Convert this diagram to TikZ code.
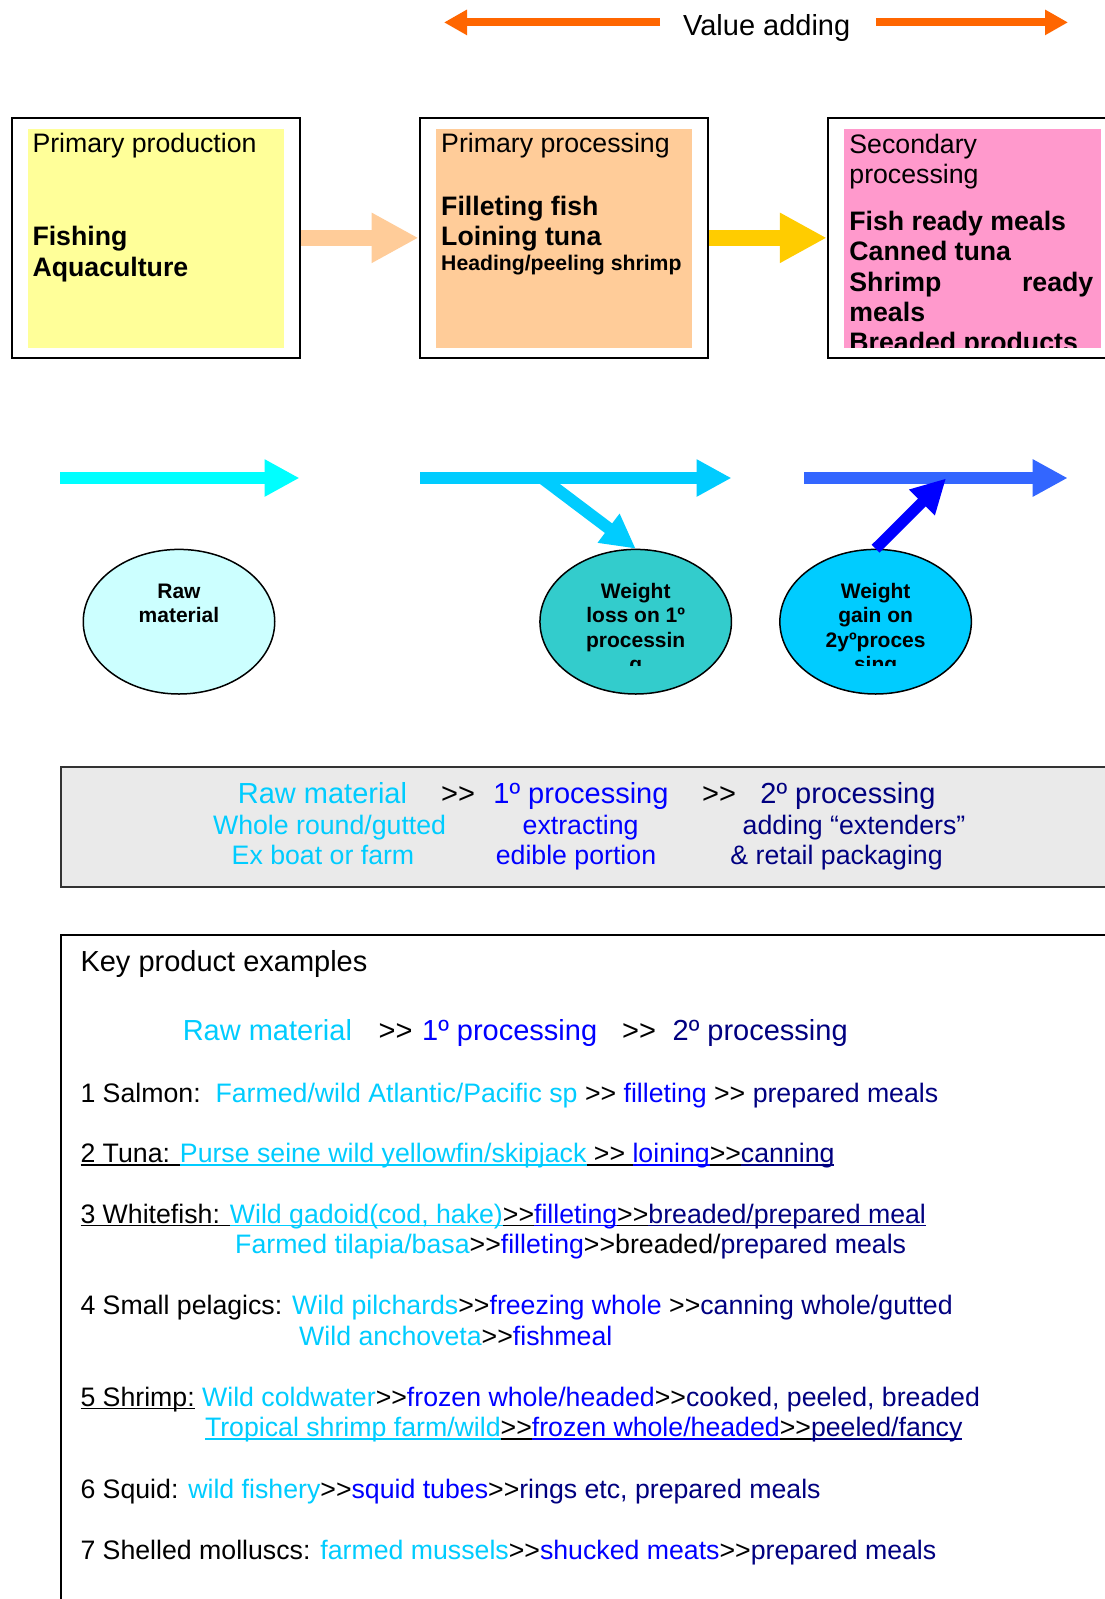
\documentclass[tikz,border=0pt]{standalone}
\usepackage{fontspec}
\setmainfont{Liberation Sans}
\usetikzlibrary{arrows.meta,shapes.geometric}

% palette
\definecolor{rawc}{HTML}{00CCFF}
\definecolor{onec}{HTML}{0000FF}
\definecolor{twoc}{HTML}{000080}
\definecolor{orangec}{HTML}{FF6600}
\definecolor{yellowbox}{HTML}{FFFF99}
\definecolor{peachbox}{HTML}{FFCC99}
\definecolor{pinkbox}{HTML}{FF99CC}
\definecolor{goldc}{HTML}{FFCC00}
\definecolor{aquac}{HTML}{00FFFF}
\definecolor{skyc}{HTML}{00CCFF}
\definecolor{royalc}{HTML}{3366FF}
\definecolor{pureblue}{HTML}{0000FF}
\definecolor{ellA}{HTML}{CCFFFF}
\definecolor{ellB}{HTML}{33CCCC}
\definecolor{ellC}{HTML}{00CCFF}
\definecolor{panelgray}{HTML}{EAEAEA}

% font sizes (1pt = 1 picture unit)
\newcommand\fbig{\fontsize{29pt}{33pt}\selectfont}
\newcommand\fmid{\fontsize{26.7pt}{30.7pt}\selectfont}
\newcommand\fsml{\fontsize{21.2pt}{24.5pt}\selectfont}
\newcommand\fell{\fontsize{21pt}{24.5pt}\selectfont\bfseries}

% coloured runs and a flat underline in the current colour
\newcommand\rawt[1]{\textcolor{rawc}{#1}}
\newcommand\onet[1]{\textcolor{onec}{#1}}
\newcommand\twot[1]{\textcolor{twoc}{#1}}
\newcommand\ulin[1]{\setbox0=\hbox{#1}\rlap{\rule[-3.4pt]{\wd0}{1.5pt}}\box0\relax}
\newcommand\ggt{>\kern0pt>}

\begin{document}
\begin{tikzpicture}[x=1pt,y=-1pt,
  outerbox/.style={draw, line width=2pt, inner sep=0pt,
    minimum width=288.5pt, minimum height=240.3pt},
  txt/.style={inner sep=0pt, anchor=base west},
  ctxt/.style={inner sep=0pt, anchor=base},
  fatarrow/.style={line width=16pt, -{Triangle[length=47pt,width=47pt]}},
  flowarrow/.style={line width=12pt, -{Triangle[length=35pt,width=35pt]}},
  brancharrow/.style={line width=12pt, -{Triangle[length=34pt,width=34pt]}},
  valarrow/.style={orangec, line width=8pt, -{Triangle[length=23pt,width=24pt]}},
  blob/.style={ellipse, draw, line width=1.5pt, inner sep=0pt,
    minimum width=191.5pt, minimum height=144.6pt},
  elltxt/.style={inner sep=0pt, anchor=base, align=center, font=\fell},
]
\clip (0,0) rectangle (1105,1599);
\fill[white] (0,0) rectangle (1105,1599);

% ---- value adding banner
\node[ctxt, font=\fbig] (va) at (766.7,35) {Value adding};
\coordinate (vaL0) at (660,22.4);
\coordinate (vaL1) at (444,22.4);
\coordinate (vaR0) at (876,22.4);
\coordinate (vaR1) at (1068,22.4);
\draw[valarrow] (vaL0) -- (vaL1);
\draw[valarrow] (vaR0) -- (vaR1);

% ---- three stage boxes
\node[outerbox] (b1) at (155.75,237.85) {};
\node[outerbox] (b2) at (563.75,237.85) {};
\node[outerbox] (b3) at (972,237.85) {};
\fill[yellowbox] (28,129) rectangle (284,347.7);
\fill[peachbox] (436,129) rectangle (692,347.7);
\fill[pinkbox] (844,129) rectangle (1100.5,347.7);

\draw[fatarrow, peachbox] (b1.east) -- (b2.west);
\draw[fatarrow, goldc] (b2.east) -- (b3.west);

\node[txt, font=\fmid] (t1a) at (32.3,152.7) {Primary production};
\node[txt, font=\fmid\bfseries] (t1b) at (32.3,245) {Fishing};
\node[txt, font=\fmid\bfseries] (t1c) at (32.3,276) {Aquaculture};

\node[txt, font=\fmid] (t2a) at (441,152.7) {Primary processing};
\node[txt, font=\fmid\bfseries] (t2b) at (441,215) {Filleting fish};
\node[txt, font=\fmid\bfseries] (t2c) at (441,245) {Loining tuna};
\node[txt, font=\fsml\bfseries] (t2d) at (441,270.7) {Heading/peeling shrimp};

\begin{scope}
\clip (844,129) rectangle (1100.5,347.7);
\node[txt, font=\fmid] (t3a) at (849.2,153.3) {Secondary};
\node[txt, font=\fmid] (t3b) at (849.2,183.3) {processing};
\node[txt, font=\fmid\bfseries] (t3c) at (849.2,230) {Fish ready meals};
\node[txt, font=\fmid\bfseries] (t3d) at (849.2,260.7) {Canned tuna};
\node[txt, font=\fmid\bfseries] (t3e) at (849.2,291.7) {Shrimp};
\node[inner sep=0pt, anchor=base east, font=\fmid\bfseries] (t3f) at (1093.5,291.7) {ready};
\node[txt, font=\fmid\bfseries] (t3g) at (849.2,321.7) {meals};
\node[txt, font=\fmid\bfseries] (t3h) at (849.2,351.7) {Breaded products};
\end{scope}

% ---- mass flow arrows and ellipses
\node[blob, fill=ellA] (e1) at (179,621.7) {};
\node[blob, fill=ellB] (e2) at (635.7,621.7) {};
\node[blob, fill=ellC] (e3) at (875.6,621.7) {};

\coordinate (fa0) at (60,478);
\coordinate (fa1) at (299.5,478);
\coordinate (fb0) at (420,478);
\coordinate (fb1) at (731.5,478);
\coordinate (fbx) at (542,478);
\coordinate (fc0) at (804,478);
\coordinate (fc1) at (1067.7,478);
\coordinate (fcx) at (946,478.5);

\draw[flowarrow, aquac] (fa0) -- (fa1);
\draw[flowarrow, skyc] (fb0) -- (fb1);
\draw[brancharrow, skyc] (fbx) -- (e2.north);
\draw[flowarrow, royalc] (fc0) -- (fc1);
\draw[brancharrow, pureblue, line width=11pt] (e3.north) -- (fcx);

% multi-line labels sit on the baseline of their last line
\node[elltxt] (e1t) at (179,622.8) {Raw\\material};
\begin{scope}
\clip (540,560) rectangle (975,665);
\node[elltxt] (e2t) at (635.7,671.8) {Weight\\loss on 1º\\processin\\g};
\node[elltxt] (e3t) at (875.6,671.8) {Weight\\gain on\\2yºproces\\sing};
\end{scope}

% ---- summary panel
\node[draw=black!80, fill=panelgray, line width=2.2pt, inner sep=0pt,
  minimum width=1070pt, minimum height=120pt, anchor=north west] (gbox) at (60,766) {};
\node[ctxt, font=\fbig, text=rawc] (g1a) at (322.5,803.3) {Raw material};
\node[ctxt, font=\fbig] (g1b) at (458,803.3) {\ggt};
\node[ctxt, font=\fbig, text=onec] (g1c) at (581,803.3) {1º processing};
\node[ctxt, font=\fbig] (g1d) at (719,803.3) {\ggt};
\node[ctxt, font=\fbig, text=twoc] (g1e) at (848,803.3) {2º processing};
\node[ctxt, font=\fmid, text=rawc] (g2a) at (329.6,834) {Whole round/gutted};
\node[ctxt, font=\fmid, text=onec] (g2b) at (580.6,834) {extracting};
\node[ctxt, font=\fmid, text=twoc] (g2c) at (854,834) {adding “extenders”};
\node[ctxt, font=\fmid, text=rawc] (g3a) at (323,864.3) {Ex boat or farm};
\node[ctxt, font=\fmid, text=onec] (g3b) at (576,864.3) {edible portion};
\node[ctxt, font=\fmid, text=twoc] (g3c) at (836.6,864.3) {\& retail packaging};

% ---- key product examples
\node[draw, line width=2pt, inner sep=0pt, minimum width=1100pt,
  minimum height=720pt, anchor=north west] (kbox) at (60,934) {};
\node[txt, font=\fbig] (k0) at (80.3,971.7) {Key product examples};
\node[txt, font=\fbig, text=rawc] (kh1) at (182.6,1040) {Raw material};
\node[txt, font=\fbig] (kh2) at (378.4,1040) {\ggt};
\node[txt, font=\fbig, text=onec] (kh3) at (422,1040) {1º processing};
\node[txt, font=\fbig] (kh4) at (622,1040) {\ggt};
\node[txt, font=\fbig, text=twoc] (kh5) at (672.5,1040) {2º processing};

\node[txt, font=\fmid] (k1) at (80.3,1102)
  {1 Salmon:\ \ \rawt{Farmed/wild Atlantic/Pacific sp} \ggt{} \onet{filleting} \ggt{} \twot{prepared meals}};
\node[txt, font=\fmid] (k2) at (80.3,1162.5)
  {\ulin{2 Tuna: }\rawt{\ulin{Purse seine wild yellowfin/skipjack}}\ulin{ \ggt{} }\onet{\ulin{loining}}\ulin{\ggt}\twot{\ulin{canning}}};
\node[txt, font=\fmid] (k3) at (80.3,1223)
  {\ulin{3 Whitefish: }\rawt{\ulin{Wild gadoid(cod, hake)}}\ulin{\ggt}\onet{\ulin{filleting}}\ulin{\ggt}\twot{\ulin{breaded/prepared meal}}};
\node[txt, font=\fmid] (k3b) at (235,1253.5)
  {\rawt{Farmed tilapia/basa}\ggt\onet{filleting}\ggt{}breaded/\twot{prepared meals}};
\node[txt, font=\fmid] (k4) at (80.3,1314.5)
  {4 Small pelagics: \rawt{Wild pilchards}\ggt\onet{freezing whole} \ggt\twot{canning whole/gutted}};
\node[txt, font=\fmid] (k4b) at (299,1345)
  {\rawt{Wild anchoveta}\ggt\onet{fishmeal}};
\node[txt, font=\fmid] (k5) at (80.3,1406)
  {\ulin{5 Shrimp:} \rawt{Wild coldwater}\ggt\onet{frozen whole/headed}\ggt\twot{cooked, peeled, breaded}};
\node[txt, font=\fmid] (k5b) at (204.8,1436.5)
  {\rawt{\ulin{Tropical shrimp farm/wild}}\ulin{\ggt}\onet{\ulin{frozen whole/headed}}\ulin{\ggt}\twot{\ulin{peeled/fancy}}};
\node[txt, font=\fmid] (k6) at (80.3,1498)
  {6 Squid: \rawt{wild fishery}\ggt\onet{squid tubes}\ggt\twot{rings etc, prepared meals}};
\node[txt, font=\fmid] (k7) at (80.3,1559)
  {7 Shelled molluscs: \rawt{farmed mussels}\ggt\onet{shucked meats}\ggt\twot{prepared meals}};
\end{tikzpicture}
\end{document}
